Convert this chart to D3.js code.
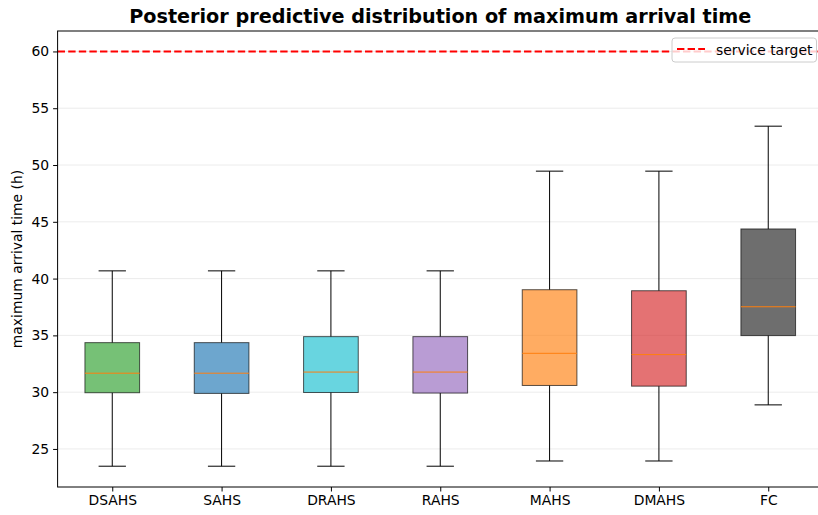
<!DOCTYPE html>
<html><head><meta charset="utf-8">
<script src="https://cdn.jsdelivr.net/npm/d3@7"></script>
<style>body{margin:0;background:#fff;} svg{display:block;font-family:"DejaVu Sans",sans-serif;}</style>
</head><body><svg id="c" width="818" height="515"></svg>
<script>
const categories = ["DSAHS","SAHS","DRAHS","RAHS","MAHS","DMAHS","FC"];
const whiskerLow = [23.48, 23.48, 23.48, 23.48, 23.94, 23.94, 28.88];
const q1 =         [29.95, 29.89, 29.97, 29.92, 30.59, 30.53, 34.98];
const median =     [31.67, 31.67, 31.77, 31.77, 33.42, 33.31, 37.52];
const q3 =         [34.36, 34.36, 34.89, 34.89, 39.02, 38.93, 44.37];
const whiskerHigh =[40.68, 40.68, 40.68, 40.68, 49.46, 49.46, 53.42];
const colors = ["#2ca02c","#1f77b4","#17becf","#9467bd","#ff7f0e","#d62728","#202020"];
const yTicks = [25,30,35,40,45,50,55,60];
const target = 60;

const svg = d3.select("#c");
const m = {l:57.6, r:822.9, t:31, b:487};
const x = d3.scaleLinear().domain([0.5, categories.length+0.5]).range([m.l, m.r]);
const y = d3.scaleLinear().domain([21.65, 61.8]).range([m.b, m.t]);
const bw = (x(1)-x(0))*0.5, cw = (x(1)-x(0))*0.25;

// grid
svg.append("g").selectAll("line").data(yTicks).join("line")
  .attr("x1", m.l).attr("x2", m.r).attr("y1", d=>y(d)).attr("y2", d=>y(d))
  .attr("stroke", "#b0b0b0").attr("stroke-opacity", 0.3).attr("stroke-width", 0.8);

const g = svg.append("g").selectAll("g").data(categories).join("g");
g.each(function(c, i){
  const s = d3.select(this), cx = x(i+1);
  s.append("line").attr("x1",cx).attr("x2",cx).attr("y1",y(whiskerLow[i])).attr("y2",y(q1[i])).attr("stroke","#000").attr("stroke-width",1);
  s.append("line").attr("x1",cx).attr("x2",cx).attr("y1",y(q3[i])).attr("y2",y(whiskerHigh[i])).attr("stroke","#000").attr("stroke-width",1);
  [whiskerLow[i], whiskerHigh[i]].forEach(v=>{
    s.append("line").attr("x1",cx-cw/2).attr("x2",cx+cw/2).attr("y1",y(v)).attr("y2",y(v)).attr("stroke","#000").attr("stroke-width",1);
  });
  s.append("rect").attr("x",cx-bw/2).attr("width",bw).attr("y",y(q3[i])).attr("height",y(q1[i])-y(q3[i]))
    .attr("fill",colors[i]).attr("fill-opacity",0.65).attr("stroke","#000").attr("stroke-opacity",0.65).attr("stroke-width",1);
  s.append("line").attr("x1",cx-bw/2).attr("x2",cx+bw/2).attr("y1",y(median[i])).attr("y2",y(median[i])).attr("stroke","#ff7f0e").attr("stroke-width",1);
});

// target line
svg.append("line").attr("x1",m.l).attr("x2",m.r).attr("y1",y(target)).attr("y2",y(target))
  .attr("stroke","red").attr("stroke-width",2).attr("stroke-dasharray","7.4,3.2");

// frame
svg.append("rect").attr("x",m.l).attr("y",m.t).attr("width",m.r-m.l).attr("height",m.b-m.t).attr("fill","none").attr("stroke","#000").attr("stroke-width",1);

// axes
const ya = svg.append("g").attr("transform",`translate(${m.l},0)`).call(d3.axisLeft(y).tickValues(yTicks).tickSize(4.5).tickPadding(4));
ya.select(".domain").remove();
ya.selectAll("text").attr("font-size",13.9).attr("fill","#000").attr("font-family","DejaVu Sans");
const xa = svg.append("g").attr("transform",`translate(0,${m.b})`).call(d3.axisBottom(x).tickValues(d3.range(1,categories.length+1)).tickFormat(d=>categories[d-1]).tickSize(4.5).tickPadding(4));
xa.select(".domain").remove();
xa.selectAll("text").attr("font-size",13.9).attr("fill","#000").attr("font-family","DejaVu Sans");

svg.append("text").attr("x",(m.l+m.r)/2).attr("y",23).attr("text-anchor","middle").attr("font-size",19.2).attr("font-weight","bold").text("Posterior predictive distribution of maximum arrival time");
svg.append("text").attr("transform",`translate(22,${(m.t+m.b)/2}) rotate(-90)`).attr("text-anchor","middle").attr("font-size",13.9).text("maximum arrival time (h)");

// legend
const lg = svg.append("g");
lg.append("rect").attr("x",672).attr("y",38).attr("width",144.5).attr("height",24).attr("rx",3).attr("fill","#fff").attr("fill-opacity",0.8).attr("stroke","#ccc").attr("stroke-width",1);
lg.append("line").attr("x1",677).attr("x2",705).attr("y1",49).attr("y2",49).attr("stroke","red").attr("stroke-width",2).attr("stroke-dasharray","7.4,3.2");
lg.append("text").attr("x",716).attr("y",54.5).attr("font-size",13.9).text("service target");
</script></body></html>
